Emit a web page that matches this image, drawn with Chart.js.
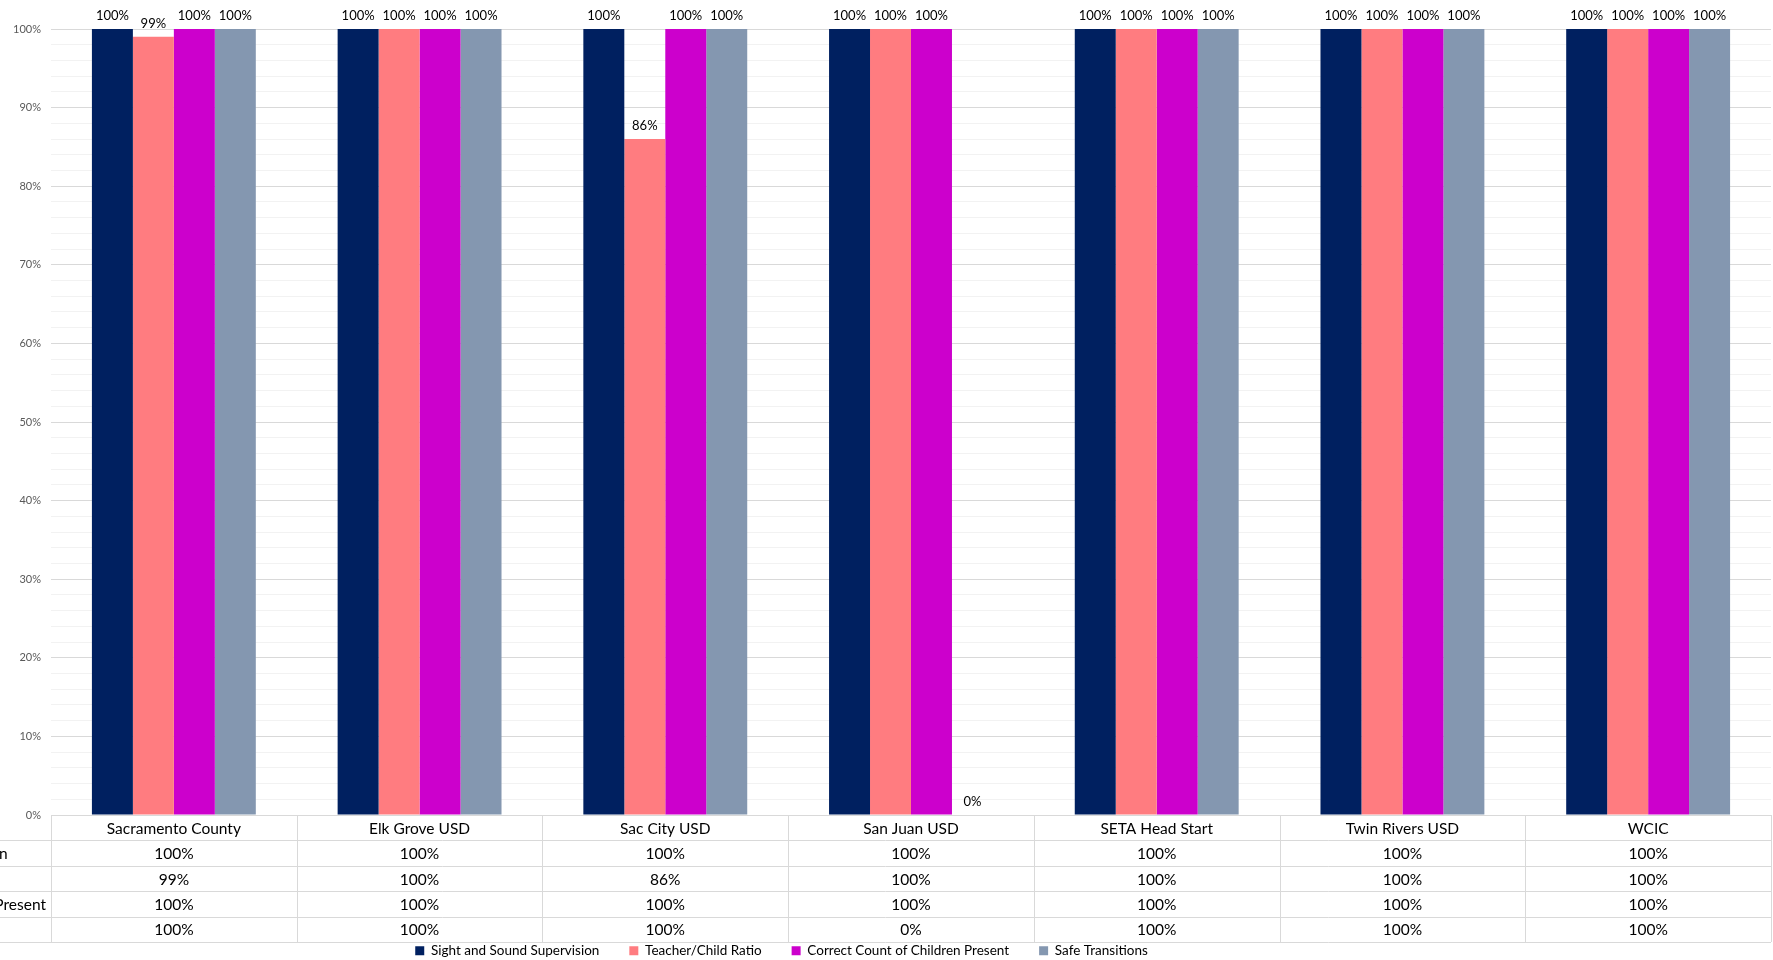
<!DOCTYPE html>
<html>
<head>
<meta charset="utf-8">
<script src="https://cdn.jsdelivr.net/npm/chart.js@4.4.1/dist/chart.umd.min.js"></script>
<style>
  html, body { margin: 0; padding: 0; background: #fff; }
  #wrap { width: 1773px; height: 960px; }
</style>
</head>
<body>
<div id="wrap"><canvas id="chart" width="1773" height="960"></canvas></div>
<script>
// categories and series
var programs = ["Sacramento County", "Elk Grove USD", "Sac City USD", "San Juan USD", "SETA Head Start", "Twin Rivers USD", "WCIC"];
var seriesNames = ["Sight and Sound Supervision", "Teacher/Child Ratio", "Correct Count of Children Present", "Safe Transitions"];
var sightSound = [100, 100, 100, 100, 100, 100, 100];
var teacherChild = [99, 100, 86, 100, 100, 100, 100];
var correctCount = [100, 100, 100, 100, 100, 100, 100];
var safeTransitions = [100, 100, 100, 0, 100, 100, 100];
var colors = ["#002060", "#FF7C80", "#CC00CC", "#8497B0"];

var FONT = "Lato, 'Open Sans', sans-serif";

// values over the bars
var barLabels = {
  id: "barLabels",
  afterDatasetsDraw: function(chart) {
    var ctx = chart.ctx;
    ctx.save();
    ctx.font = "13px " + FONT;
    ctx.fillStyle = "#000";
    ctx.textAlign = "center";
    ctx.textBaseline = "middle";
    chart.data.datasets.forEach(function(ds, i) {
      chart.getDatasetMeta(i).data.forEach(function(bar, j) {
        ctx.fillText(ds.data[j] + "%", bar.x, bar.y - 13.5);
      });
    });
    ctx.restore();
  }
};

// legend sits a bit left of centre in the original
var legendShift = {
  id: "legendShift",
  afterLayout: function(chart) {
    chart.legend.left -= 104;
    chart.legend.right -= 104;
  }
};

// data table under the plot
var dataTable = {
  id: "dataTable",
  afterDraw: function(chart) {
    var ctx = chart.ctx;
    var x = chart.scales.x;
    var top = chart.chartArea.bottom;
    var rowH = 25.4;
    var nRows = seriesNames.length + 1;
    var left = chart.chartArea.left, right = chart.chartArea.right;
    var colW = (right - left) / programs.length;
    ctx.save();
    ctx.strokeStyle = "#d9d9d9";
    ctx.lineWidth = 1;
    ctx.beginPath();
    ctx.moveTo(left, top + 0.5);
    ctx.lineTo(right, top + 0.5);
    for (var r = 1; r <= nRows; r++) {
      var yy = Math.round(top + r * rowH) + 0.5;
      ctx.moveTo(0, yy);
      ctx.lineTo(right, yy);
    }
    for (var c = 0; c <= programs.length; c++) {
      var xx = Math.round(x.getPixelForValue(0) - colW / 2 + c * colW) + 0.5;
      ctx.moveTo(xx, top);
      ctx.lineTo(xx, top + nRows * rowH);
    }
    ctx.stroke();

    ctx.font = "15.5px " + FONT;
    ctx.fillStyle = "#000";
    ctx.textBaseline = "middle";
    ctx.textAlign = "center";
    programs.forEach(function(p, j) {
      ctx.fillText(p, x.getPixelForValue(j), top + rowH / 2 + 1);
    });
    var rows = [sightSound, teacherChild, correctCount, safeTransitions];
    rows.forEach(function(vals, i) {
      var cy = top + (i + 1.5) * rowH + 1;
      vals.forEach(function(v, j) {
        ctx.fillText(v + "%", x.getPixelForValue(j), cy);
      });
    });
    // row names: left aligned in a column that runs off the left edge
    ctx.textAlign = "left";
    var widest = Math.max.apply(null, seriesNames.map(function(s) { return ctx.measureText(s).width; }));
    var x0 = left - 5 - widest;
    seriesNames.forEach(function(s, i) {
      ctx.fillText(s, x0, top + (i + 1.5) * rowH + 1);
    });
    ctx.restore();
  }
};

new Chart(document.getElementById("chart"), {
  type: "bar",
  data: {
    labels: programs,
    datasets: [
      { label: seriesNames[0], data: sightSound, backgroundColor: colors[0] },
      { label: seriesNames[1], data: teacherChild, backgroundColor: colors[1] },
      { label: seriesNames[2], data: correctCount, backgroundColor: colors[2] },
      { label: seriesNames[3], data: safeTransitions, backgroundColor: colors[3] }
    ]
  },
  plugins: [barLabels, dataTable, legendShift],
  options: {
    responsive: false,
    animation: false,
    devicePixelRatio: 1,
    layout: { padding: { top: 29, right: 2, bottom: 0, left: 0 } },
    datasets: { bar: { categoryPercentage: 0.667, barPercentage: 1.0 } },
    plugins: {
      tooltip: { enabled: false },
      legend: {
        position: "bottom",
        maxHeight: 46,
        labels: {
          font: { family: FONT, size: 13.5 },
          color: "#000",
          boxWidth: 9,
          boxHeight: 9,
          padding: 30
        }
      }
    },
    scales: {
      x: {
        grid: { display: false },
        border: { display: false },
        ticks: { display: false },
        afterFit: function(s) { s.height = 99; }
      },
      y: {
        min: 0,
        max: 100,
        border: { display: false },
        afterFit: function(s) { s.width = 51; },
        grid: {
          drawTicks: false,
          color: function(c) { return c.tick && c.tick.value % 10 === 0 ? "#d9d9d9" : "#f2f2f2"; }
        },
        ticks: {
          stepSize: 2,
          autoSkip: false,
          padding: 10,
          color: "#595959",
          font: { family: FONT, size: 11 },
          callback: function(v) { return v % 10 === 0 ? v + "%" : ""; }
        }
      }
    }
  }
});
</script>
</body>
</html>
